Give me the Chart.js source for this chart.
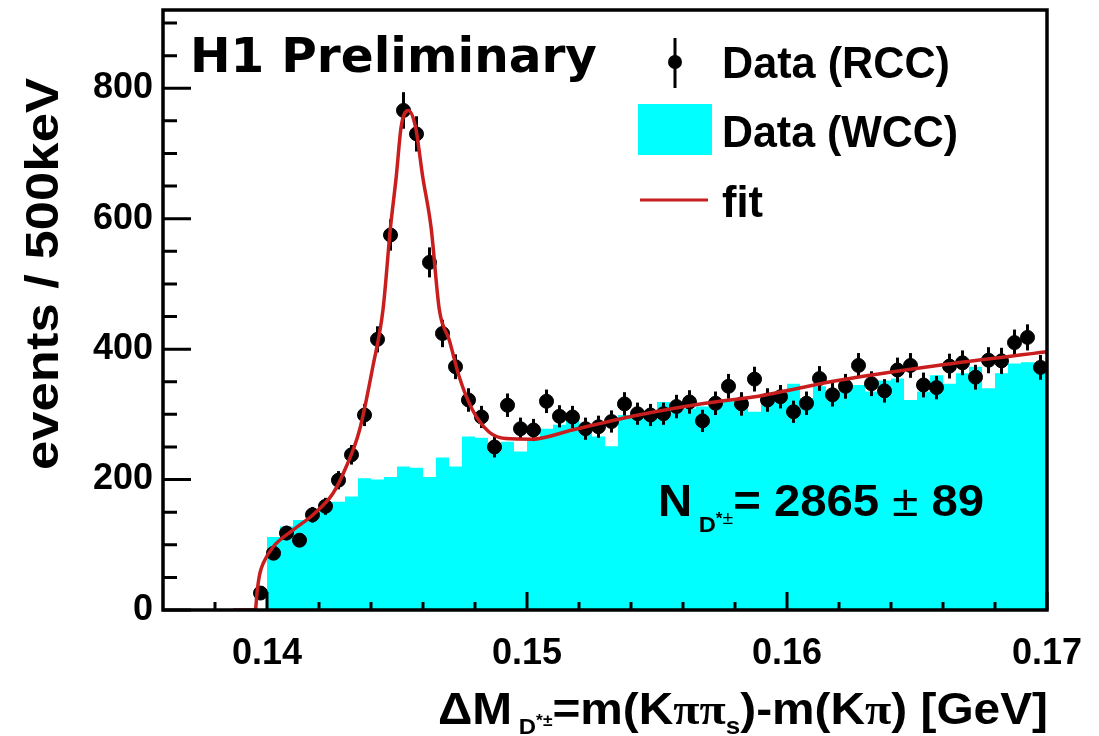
<!DOCTYPE html>
<html>
<head>
<meta charset="utf-8">
<script src="https://cdn.jsdelivr.net/npm/chart.js@4"></script>
<style>
  body { margin: 0; background: #fff; }
  canvas { display: block; }
</style>
</head>
<body>
<canvas id="dmChart" width="1099" height="736"></canvas>
<script>
// binning: 500 keV bins
var binWidth = 0.0005;
var rccFirstCenter = 0.13975;
var wccFirstEdge = 0.1400;

// right-charge data points (events / bin) and their errors
var rccCounts = [26, 87, 118, 107, 146, 159, 199, 238, 299, 415,
  575, 766, 730, 533, 424, 373, 322, 296, 250, 314,
  278, 276, 320, 297, 296, 278, 281, 289, 316, 301,
  299, 301, 312, 319, 290, 317, 343, 316, 354, 322,
  327, 304, 317, 355, 330, 343, 375, 347, 336, 368,
  375, 345, 341, 374, 379, 357, 383, 382, 410, 418, 372];
var rccErrors = [5, 9, 11, 10, 12, 13, 14, 15, 17, 20,
  24, 28, 27, 23, 21, 19, 18, 17, 16, 18,
  17, 17, 18, 17, 17, 17, 17, 17, 18, 17,
  17, 17, 18, 18, 17, 18, 19, 18, 19, 18,
  18, 17, 18, 19, 18, 19, 19, 19, 18, 19,
  19, 19, 18, 19, 19, 19, 20, 20, 20, 20, 19];

// wrong-charge histogram (one value per bin, from 0.1400)
var wccCounts = [69, 112, 128, 138, 146, 156, 166, 174, 202, 200,
  204, 220, 218, 204, 234, 220, 266, 264, 243, 258,
  243, 263, 278, 284, 301, 283, 266, 251, 299, 295,
  300, 319, 305, 309, 312, 318, 320, 325, 304, 330,
  330, 347, 325, 343, 327, 348, 345, 335, 352, 355,
  322, 335, 360, 347, 363, 373, 340, 363, 378, 380];

// fit curve
var fitX = [0.1387, 0.13955, 0.13962, 0.13972, 0.13986, 0.14024, 0.14101, 0.14177, 0.14254,
  0.14305, 0.14356, 0.14407, 0.14446, 0.14475, 0.14497, 0.14516, 0.14544,
  0.14571, 0.14599, 0.14631, 0.14663, 0.14701, 0.14739, 0.14790, 0.14854,
  0.14918, 0.15020, 0.15174, 0.15429, 0.15685, 0.15876, 0.16195, 0.16579, 0.17];
var fitY = [0, 0, 28, 55, 72, 97, 123, 146, 179,
  220, 276, 373, 460, 587, 664, 741, 766,
  741, 664, 587, 460, 414, 358, 307, 273,
  263, 262, 276, 299, 317, 327, 352, 375, 396];

var xMajorTicks = [0.14, 0.15, 0.16, 0.17];
var yMajorTicks = [0, 200, 400, 600, 800];

var rccPoints = rccCounts.map(function (v, i) {
  return { x: rccFirstCenter + i * binWidth, y: v };
});
var wccPoints = wccCounts.map(function (v, i) {
  return { x: wccFirstEdge + i * binWidth, y: v };
});
wccPoints.push({ x: wccFirstEdge + wccCounts.length * binWidth, y: wccCounts[wccCounts.length - 1] });
var fitPoints = fitX.map(function (x, i) { return { x: x, y: fitY[i] }; });

// draw a row of text pieces squeezed to a given width
function drawParts(ctx, parts, x, y, targetW, rotate) {
  var total = 0;
  parts.forEach(function (p) {
    ctx.font = p.font;
    p.w = ctx.measureText(p.t).width;
    total += p.w;
  });
  var sx = targetW / total;
  ctx.save();
  ctx.translate(x, y);
  if (rotate) ctx.rotate(-Math.PI / 2);
  ctx.scale(sx, 1);
  ctx.fillStyle = '#000';
  ctx.textBaseline = 'alphabetic';
  ctx.textAlign = 'left';
  var cx = 0;
  parts.forEach(function (p) {
    ctx.font = p.font;
    ctx.fillText(p.t, cx, p.dy || 0);
    cx += p.w;
  });
  ctx.restore();
}

function f(size, weight, fam) {
  return (weight || 'bold') + ' ' + size + 'px ' + (fam || '"Liberation Sans", Arial, sans-serif');
}

var errorBars = {
  id: 'errorBars',
  afterDatasetDraw: function (chart, args) {
    if (args.index !== 1) return;
    var ctx = chart.ctx, xs = chart.scales.x, ys = chart.scales.y;
    ctx.save();
    ctx.strokeStyle = '#000';
    ctx.lineWidth = 3;
    rccPoints.forEach(function (p, i) {
      var px = xs.getPixelForValue(p.x);
      ctx.beginPath();
      ctx.moveTo(px, ys.getPixelForValue(p.y - rccErrors[i]));
      ctx.lineTo(px, ys.getPixelForValue(p.y + rccErrors[i]));
      ctx.stroke();
    });
    ctx.restore();
  }
};

var frameAndText = {
  id: 'frameAndText',
  afterDraw: function (chart) {
    var ctx = chart.ctx, a = chart.chartArea;
    var xs = chart.scales.x, ys = chart.scales.y;
    ctx.save();
    ctx.strokeStyle = '#000';
    ctx.lineWidth = 3;
    // inward ticks
    ctx.beginPath();
    for (var v = 0; v <= 900; v += 50) {
      var py = ys.getPixelForValue(v);
      var len = (v % 200 === 0) ? 28 : 14;
      ctx.moveTo(a.left, py); ctx.lineTo(a.left + len, py);
    }
    for (var k = 0; k <= 16; k++) {
      var xv = 0.138 + k * 0.002;
      var px = xs.getPixelForValue(xv);
      var major = Math.abs((xv * 100) - Math.round(xv * 100)) < 1e-6;
      ctx.moveTo(px, a.bottom); ctx.lineTo(px, a.bottom - (major ? 18 : 8));
    }
    ctx.stroke();
    ctx.lineWidth = 3.5;
    ctx.strokeRect(a.left, a.top, a.right - a.left, a.bottom - a.top);

    // legend
    ctx.fillStyle = '#000';
    ctx.lineWidth = 3;
    ctx.beginPath(); ctx.moveTo(675, 38); ctx.lineTo(675, 88); ctx.stroke();
    ctx.beginPath(); ctx.arc(675, 62, 7, 0, Math.PI * 2); ctx.fill();
    ctx.fillStyle = '#00ffff';
    ctx.fillRect(638, 104, 74, 51);
    ctx.strokeStyle = '#c81e1e';
    ctx.beginPath(); ctx.moveTo(640, 200); ctx.lineTo(708, 200); ctx.stroke();
    drawParts(ctx, [{ t: 'Data (RCC)', font: f(44) }], 722, 78, 228);
    drawParts(ctx, [{ t: 'Data (WCC)', font: f(44) }], 722, 147, 236);
    drawParts(ctx, [{ t: 'fit', font: f(44) }], 722, 217, 41);

    // experiment label
    drawParts(ctx, [{ t: 'H1 Preliminary', font: f(48, 'bold', '"DejaVu Sans", Verdana, sans-serif') }], 190, 72, 407);

    // signal yield
    drawParts(ctx, [
      { t: 'N', font: f(44) },
      { t: ' D', font: f(22), dy: 16 },
      { t: '*', font: f(16), dy: 8 },
      { t: '\u00b1', font: f(18, 'normal'), dy: 8 },
      { t: '= 2865', font: f(44) },
      { t: ' \u00b1 ', font: f(44, 'normal') },
      { t: '89', font: f(44) }
    ], 658, 516, 326);

    // axis titles
    drawParts(ctx, [
      { t: '\u0394M', font: f(44) },
      { t: ' D', font: f(22), dy: 10 },
      { t: '*\u00b1', font: f(16), dy: 2 },
      { t: '=m(K', font: f(44) },
      { t: '\u03c0\u03c0', font: f(44, 'bold', '"Liberation Serif", serif') },
      { t: 's', font: f(24), dy: 10 },
      { t: ')-m(K', font: f(44) },
      { t: '\u03c0', font: f(44, 'bold', '"Liberation Serif", serif') },
      { t: ') [GeV]', font: f(44) }
    ], 438, 724, 610);
    drawParts(ctx, [{ t: 'events / 500keV', font: f(46) }], 58, 470, 392, true);
    ctx.restore();
  }
};

new Chart(document.getElementById('dmChart'), {
  type: 'scatter',
  data: {
    datasets: [{
      type: 'line',
      label: 'Data (WCC)',
      data: wccPoints,
      stepped: 'after',
      fill: 'origin',
      backgroundColor: '#00ffff',
      borderColor: '#00ffff',
      borderWidth: 0,
      pointRadius: 0,
      order: 3
    }, {
      label: 'Data (RCC)',
      data: rccPoints,
      backgroundColor: '#000',
      borderColor: '#000',
      pointRadius: 7,
      pointHoverRadius: 7,
      order: 2
    }, {
      type: 'line',
      label: 'fit',
      data: fitPoints,
      borderColor: '#c81e1e',
      borderWidth: 3.5,
      pointRadius: 0,
      fill: false,
      cubicInterpolationMode: 'monotone',
      order: 1
    }]
  },
  options: {
    responsive: false,
    animation: false,
    devicePixelRatio: 1,
    layout: { padding: { top: 10, right: 52, left: 0, bottom: 0 } },
    plugins: { legend: { display: false }, tooltip: { enabled: false } },
    scales: {
      x: {
        type: 'linear',
        min: 0.136,
        max: 0.17,
        afterBuildTicks: function (s) { s.ticks = xMajorTicks.map(function (v) { return { value: v }; }); },
        afterFit: function (s) { s.height = 126; s.paddingLeft = 0; s.paddingRight = 0; },
        grid: { display: false, drawTicks: false },
        border: { display: false },
        ticks: {
          color: '#000',
          font: { family: '"Liberation Sans", Arial, sans-serif', size: 36, weight: 'bold' },
          padding: 22,
          maxRotation: 0,
          callback: function (v) { return v.toFixed(2); }
        }
      },
      y: {
        min: 0,
        max: 920,
        afterBuildTicks: function (s) { s.ticks = yMajorTicks.map(function (v) { return { value: v }; }); },
        afterFit: function (s) { s.width = 163; s.paddingTop = 0; s.paddingBottom = 0; },
        grid: { display: false, drawTicks: false },
        border: { display: false },
        ticks: {
          color: '#000',
          font: { family: '"Liberation Sans", Arial, sans-serif', size: 36, weight: 'bold' },
          padding: 10
        }
      }
    }
  },
  plugins: [errorBars, frameAndText]
});
</script>
</body>
</html>
